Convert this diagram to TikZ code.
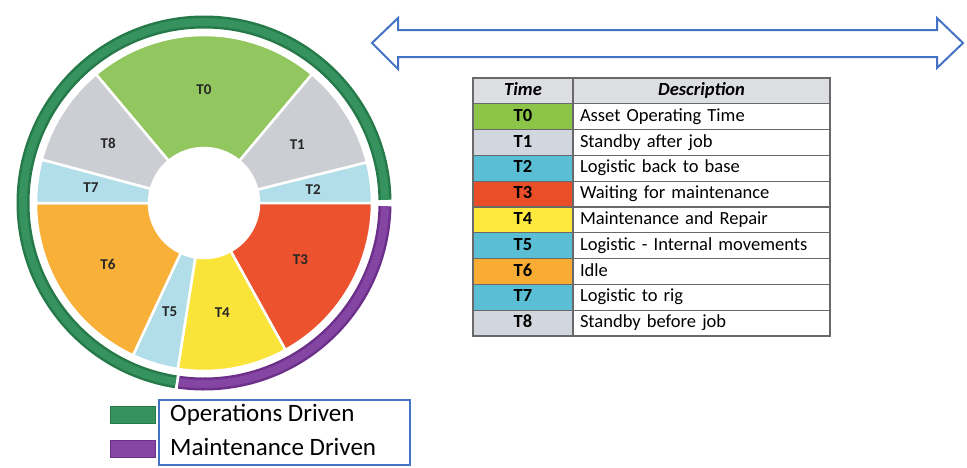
\documentclass[tikz,border=0pt]{standalone}
\usepackage{fontspec}
\setmainfont{Carlito}
\usetikzlibrary{positioning}
% wheel colours
\definecolor{opsgreen}{RGB}{38,122,74}
\definecolor{opsgreenlight}{RGB}{54,146,94}
\definecolor{maintpurple}{RGB}{108,48,138}
\definecolor{maintpurplelight}{RGB}{132,70,162}
\definecolor{wheelgreen}{RGB}{146,199,95}
\definecolor{wheelgray}{RGB}{204,206,212}
\definecolor{wheelblue}{RGB}{177,222,232}
\definecolor{wheelred}{RGB}{236,82,46}
\definecolor{wheelyellow}{RGB}{250,228,58}
\definecolor{wheelorange}{RGB}{248,176,56}
% table colours
\definecolor{tabgreen}{RGB}{140,196,72}
\definecolor{tabgray}{RGB}{210,214,222}
\definecolor{tabcyan}{RGB}{90,190,212}
\definecolor{tabred}{RGB}{234,78,40}
\definecolor{tabyellow}{RGB}{255,232,60}
\definecolor{taborange}{RGB}{248,172,52}
\definecolor{tabheader}{RGB}{220,222,225}
\definecolor{tabline}{RGB}{105,105,105}
\definecolor{arrowblue}{RGB}{68,114,196}
\hyphenpenalty=10000
\tikzset{
    % wheel styles
    segment/.style={
        draw=white, line width=2.5pt, line join=round
    },
    seglabel/.style={
        font=\fontsize{15}{17}\selectfont\bfseries, text=black!85
    },
    ringouter/.style={
        line width=13pt
    },
    ringinner/.style={
        line width=8pt
    },
    % table styles
    timecell/.style={
        rectangle, draw=tabline, line width=1.2pt,
        minimum width=100pt, minimum height=25.8pt, inner sep=0pt,
        text height=13pt, text depth=4pt,
        font=\fontsize{18.5}{22}\selectfont\bfseries
    },
    desccell/.style={
        rectangle, draw=tabline, line width=1.2pt,
        text width=243pt, inner xsep=7pt, inner ysep=0pt,
        minimum height=25.8pt, align=left,
        text height=13pt, text depth=4pt,
        font=\fontsize{18.5}{22}\selectfont
    },
    headcell/.style={
        fill=tabheader, font=\fontsize{18.5}{22}\selectfont\bfseries\itshape
    },
    % legend styles
    legendbar/.style={
        rectangle, minimum width=45pt, minimum height=17pt, inner sep=0pt
    },
    legendtext/.style={
        anchor=base west, inner sep=0pt, font=\fontsize{25}{30}\selectfont
    }
}
\newcommand{\wheelsector}[3]{%
    \filldraw[segment, fill=#3] (#1:55) arc[start angle=#1, end angle=#2, radius=55]
        -- (#2:168) arc[start angle=#2, end angle=#1, radius=168] -- cycle;}

\begin{document}
\begin{tikzpicture}[x=1pt, y=-1pt]

\useasboundingbox (0,0) rectangle (967,467);

% Wheel of time categories
\begin{scope}[shift={(204,203)}, y=1pt]
\wheelsector{50}{130}{wheelgreen}
\wheelsector{14}{50}{wheelgray}
\wheelsector{0}{14}{wheelblue}
\wheelsector{-61}{0}{wheelred}
\wheelsector{-99}{-61}{wheelyellow}
\wheelsector{-115}{-99}{wheelblue}
\wheelsector{-180}{-115}{wheelorange}
\wheelsector{165}{180}{wheelblue}
\wheelsector{130}{165}{wheelgray}

% Segment labels
\node[seglabel] (wT0) at (90:113) {T0};
\node[seglabel] (wT1) at (32:110) {T1};
\node[seglabel] (wT2) at (7:110) {T2};
\node[seglabel] (wT3) at (-30.5:112) {T3};
\node[seglabel] (wT4) at (-80.5:111) {T4};
\node[seglabel] (wT5) at (-107.5:114) {T5};
\node[seglabel] (wT6) at (-147.5:114) {T6};
\node[seglabel] (wT7) at (172.5:114) {T7};
\node[seglabel] (wT8) at (148:113) {T8};

% Outer ring: operations (green) and maintenance (purple)
\draw[ringouter, opsgreen] (1:181) arc[start angle=1, end angle=261, radius=181];
\draw[ringinner, opsgreenlight] (1:181) arc[start angle=1, end angle=261, radius=181];
\draw[ringouter, maintpurple] (-98:181) arc[start angle=-98, end angle=-1, radius=181];
\draw[ringinner, maintpurplelight] (-98:181) arc[start angle=-98, end angle=-1, radius=181];
\end{scope}

% Double headed block arrow
\draw[arrowblue, line width=2pt, line join=miter, fill=white]
    (372,43) -- (398,18) -- (398,30) -- (937,30) -- (937,18) -- (963,43)
    -- (937,68) -- (937,57) -- (398,57) -- (398,69) -- cycle;

% Table header
\node[timecell, headcell] (timehead) at (523,90.9) {Time};
\node[desccell, headcell, align=center] (deschead) at (701.5,90.9) {Description};

% Table rows
\node[timecell, fill=tabgreen] (tT0) at (523,116.7) {T0};
\node[desccell] (dT0) at (701.5,116.7) {Asset Operating Time};
\node[timecell, fill=tabgray] (tT1) at (523,142.5) {T1};
\node[desccell] (dT1) at (701.5,142.5) {Standby after job};
\node[timecell, fill=tabcyan] (tT2) at (523,168.3) {T2};
\node[desccell] (dT2) at (701.5,168.3) {Logistic back to base};
\node[timecell, fill=tabred] (tT3) at (523,194.1) {T3};
\node[desccell] (dT3) at (701.5,194.1) {Waiting for maintenance};
\node[timecell, fill=tabyellow] (tT4) at (523,219.9) {T4};
\node[desccell] (dT4) at (701.5,219.9) {Maintenance and Repair};
\node[timecell, fill=tabcyan] (tT5) at (523,245.7) {T5};
\node[desccell] (dT5) at (701.5,245.7) {Logistic - Internal movements};
\node[timecell, fill=taborange] (tT6) at (523,271.5) {T6};
\node[desccell] (dT6) at (701.5,271.5) {Idle};
\node[timecell, fill=tabcyan] (tT7) at (523,297.3) {T7};
\node[desccell] (dT7) at (701.5,297.3) {Logistic to rig};
\node[timecell, fill=tabgray] (tT8) at (523,323.1) {T8};
\node[desccell] (dT8) at (701.5,323.1) {Standby before job};

% Legend
\node[legendbar, fill=opsgreenlight, draw=opsgreen, line width=1pt] (legops) at (132.5,415) {};
\node[legendbar, fill=maintpurplelight, draw=maintpurple, line width=1pt] (legmaint) at (132.5,449) {};
\draw[arrowblue, line width=1.2pt] (159,400) rectangle (410,465);
\node[legendtext] (opstext) at (170,421) {Operations Driven};
\node[legendtext] (mainttext) at (170,455) {Maintenance Driven};

\end{tikzpicture}
\end{document}
